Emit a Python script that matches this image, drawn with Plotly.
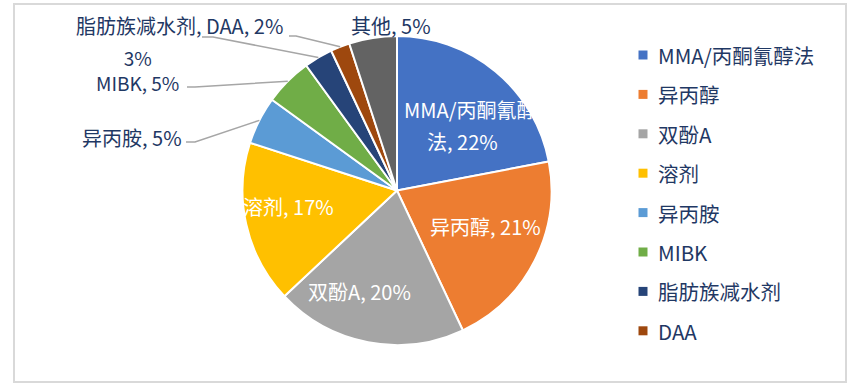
import math
import plotly.graph_objects as go

# ---------------- data ----------------
categories = ["MMA/丙酮氰醇法", "异丙醇", "双酚A", "溶剂", "异丙胺", "MIBK", "脂肪族减水剂", "DAA", "其他"]
shares = [22, 21, 20, 17, 5, 5, 3, 2, 5]
legend_categories = ["MMA/丙酮氰醇法", "异丙醇", "双酚A", "溶剂", "异丙胺", "MIBK", "脂肪族减水剂", "DAA"]

# ---------------- style ----------------
colors = ["#4472C4", "#ED7D31", "#A5A5A5", "#FFC000", "#5B9BD5",
          "#70AD47", "#264478", "#9E480E", "#636363"]
NAVY = "#1F3864"
FONT = "Noto Sans CJK SC, Microsoft YaHei, sans-serif"
FS = 20
W, H = 860, 388
CX, CY, R = 397, 190.5, 154.5   # pie centre / radius in pixels

total = sum(shares)


def mid_angle(i):
    before = sum(shares[:i])
    return 2 * math.pi * (before + shares[i] / 2) / total


def polar(i, r, dang_deg=0.0):
    a = mid_angle(i) + math.radians(dang_deg)
    return CX + r * math.sin(a), CY - r * math.cos(a)


fig = go.Figure()

fig.add_trace(go.Pie(
    labels=categories,
    values=shares,
    sort=False,
    direction="clockwise",
    rotation=0,
    marker=dict(colors=colors, line=dict(color="white", width=2)),
    textinfo="none",
    showlegend=False,
    domain=dict(x=[(CX - R) / W, (CX + R) / W],
                y=[(H - CY - R) / H, (H - CY + R) / H]),
    hovertemplate="%{label}: %{percent}<extra></extra>",
))

annotations = []


def ann(x, y, text, color, xanchor="center", size=FS):
    annotations.append(dict(x=x, y=y, xref="x", yref="y", text=text, showarrow=False,
                            xanchor=xanchor, yanchor="middle", align="center",
                            font=dict(family=FONT, size=size, color=color)))


def pct(i):
    return f"{round(100 * shares[i] / total)}%"


# inside labels (white)
x, y = polar(0, 0.62 * R, 7.3)
ann(x + 3, y - 16, "MMA/丙酮氰醇", "white")
ann(x - 4, y + 16, "法, " + pct(0), "white")
x, y = polar(1, 0.62 * R, -4.7)
ann(x, y, f"{categories[1]}, {pct(1)}", "white")
x, y = polar(2, 0.70 * R, 9.7)
ann(x, y, f"{categories[2]}, {pct(2)}", "white")
x, y = polar(3, 0.71 * R, 4.0)
ann(x, y, f"{categories[3]}, {pct(3)}", "white")

# outside labels (navy)
ann(391, 25, f"{categories[8]}, {pct(8)}", NAVY)
ann(179, 25, f"{categories[6]}, {categories[7]}, {pct(7)}", NAVY)
ann(137, 70, f"{pct(6)}<br>{categories[5]}, {pct(5)}", NAVY, size=19)
ann(132, 137, f"{categories[4]}, {pct(4)}", NAVY)

# leader lines from label to slice edge
leader_starts = {4: [(186, 142), (195, 142)],
                 5: [(187, 87), (195, 87)],
                 6: [(202, 37), (213, 37)],
                 7: [(289, 36), (296, 36)]}
shapes = []
for i, pts in leader_starts.items():
    ex, ey = polar(i, R)
    path = "M {} {} ".format(*pts[0]) + " ".join("L {} {}".format(px, py) for px, py in pts[1:]) + f" L {ex} {ey}"
    shapes.append(dict(type="path", path=path, xref="x", yref="y",
                       line=dict(color="#A6A6A6", width=1.5), layer="above"))

# outer frame
shapes.append(dict(type="rect", x0=14, y0=4, x1=846, y1=382, xref="x", yref="y",
                   line=dict(color="#D9D9D9", width=2), fillcolor="rgba(0,0,0,0)", layer="below"))

# manual legend
LX, LY0, LDY = 643, 55, 39.4
fig.add_trace(go.Scatter(
    x=[LX] * len(legend_categories),
    y=[LY0 + k * LDY for k in range(len(legend_categories))],
    mode="markers",
    marker=dict(symbol="square", size=9, color=colors[:len(legend_categories)]),
    showlegend=False, hoverinfo="skip",
))
for k, name in enumerate(legend_categories):
    ann(LX + 13, LY0 + k * LDY, name, NAVY, xanchor="left", size=20.5)

fig.update_layout(
    width=W, height=H,
    margin=dict(l=0, r=0, t=0, b=0),
    paper_bgcolor="white", plot_bgcolor="rgba(0,0,0,0)",
    xaxis=dict(range=[0, W], visible=False, fixedrange=True, domain=[0, 1]),
    yaxis=dict(range=[H, 0], visible=False, fixedrange=True, domain=[0, 1]),
    annotations=annotations,
    shapes=shapes,
    showlegend=False,
)

fig.write_html("out.html",
               config={"displayModeBar": False},
               post_script="document.body.style.margin='0';document.body.style.overflow='hidden';")
